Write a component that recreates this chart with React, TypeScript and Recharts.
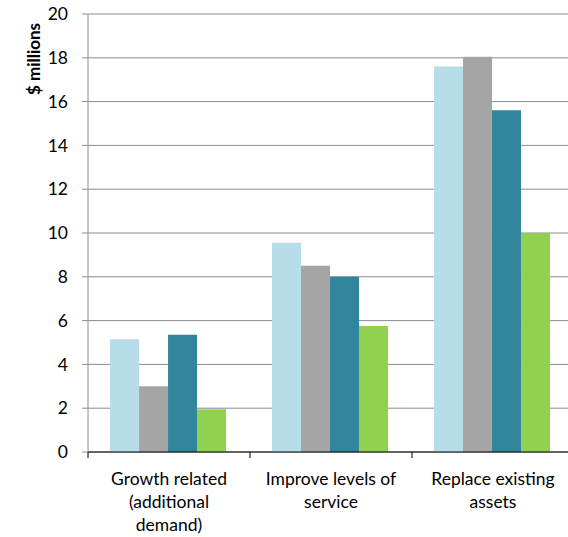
import React from 'react';
import { BarChart, Bar, XAxis, YAxis, CartesianGrid } from 'recharts';

const categories = ['Growth related (additional demand)', 'Improve levels of service', 'Replace existing assets'];
const labelLines = [['Growth related', '(additional', 'demand)'], ['Improve levels of', 'service'], ['Replace existing', 'assets']];
const seriesA = [5.15, 9.55, 17.6];
const seriesB = [3.0, 8.5, 18.05];
const seriesC = [5.35, 8.0, 15.6];
const seriesD = [1.95, 5.75, 10.0];
const yTicks = [0, 2, 4, 6, 8, 10, 12, 14, 16, 18, 20];

const data = categories.map((name, i) => ({
  name,
  a: seriesA[i],
  b: seriesB[i],
  c: seriesC[i],
  d: seriesD[i],
}));

const font = 'Lato, "Open Sans", sans-serif';

const CategoryTick = (props: any) => {
  const { x, y, payload, index } = props;
  const lines = labelLines[index] || [payload.value];
  const half = payload.offset || 0;
  return (
    <g>
      <line x1={x - half} x2={x - half} y1={y - 8} y2={y - 2} stroke="#000" strokeWidth={1} />
      {index === categories.length - 1 && (
        <line x1={x + half} x2={x + half} y1={y - 8} y2={y - 2} stroke="#000" strokeWidth={1} />
      )}
      <text x={x} y={y + 25} textAnchor="middle" fill="#000" fontSize={17.5} fontFamily={font}>
        {lines.map((t: string, i: number) => (
          <tspan key={i} x={x} dy={i === 0 ? 0 : 23}>{t}</tspan>
        ))}
      </text>
    </g>
  );
};

const YLabel = (props: any) => {
  const { viewBox } = props;
  const cx = viewBox.x + 40;
  const cy = viewBox.y + 45;
  return (
    <text x={cx} y={cy} transform={`rotate(-90 ${cx} ${cy})`} textAnchor="middle" fontWeight="bold" fontSize={17} fontFamily={font} fill="#000">
      $ millions
    </text>
  );
};

export default function App() {
  return (
    <div style={{ position: 'absolute', left: 0, top: 0, width: 568, height: 537, overflow: 'hidden', background: '#fff' }}>
      <BarChart
        width={580}
        height={537}
        data={data}
        margin={{ top: 14, right: 6, left: 0, bottom: 0 }}
        barGap={0}
        barCategoryGap="13.6%"
      >
        <CartesianGrid vertical={false} stroke="#8c8c8c" strokeWidth={1} />
        <XAxis
          dataKey="name"
          height={85}
          interval={0}
          tick={<CategoryTick />}
          tickLine={false}
          axisLine={{ stroke: '#000' }}
        />
        <YAxis
          width={88}
          domain={[0, 20]}
          ticks={yTicks}
          interval={0}
          tickSize={6}
          tickMargin={14}
          tickLine={{ stroke: '#8c8c8c' }}
          axisLine={{ stroke: '#8c8c8c' }}
          tick={{ fill: '#000', fontSize: 17.5, fontFamily: font }}
          label={<YLabel />}
        />
        <Bar dataKey="a" fill="#B7DDE8" isAnimationActive={false} />
        <Bar dataKey="b" fill="#A5A5A5" isAnimationActive={false} />
        <Bar dataKey="c" fill="#31859C" isAnimationActive={false} />
        <Bar dataKey="d" fill="#92D050" isAnimationActive={false} />
      </BarChart>
    </div>
  );
}
